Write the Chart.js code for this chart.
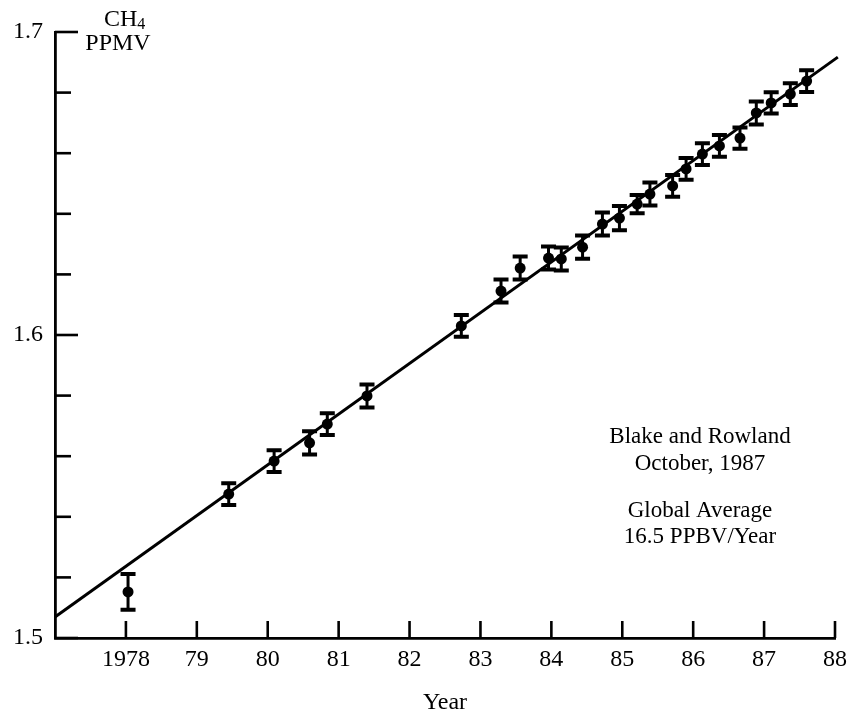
<!DOCTYPE html>
<html>
<head>
<meta charset="utf-8">
<title>CH4 PPMV</title>
<script src="https://cdn.jsdelivr.net/npm/chart.js@4"></script>
<style>
  html, body { margin: 0; padding: 0; background: #fff; }
  #wrap { width: 849px; height: 715px; }
</style>
</head>
<body>
<div id="wrap"><canvas id="c" width="849" height="715"></canvas></div>
<script>
// Sampling dates (decimal year)
const years = [
  1978.03, 1979.45, 1980.09, 1980.59, 1980.84, 1981.40, 1982.73, 1983.29,
  1983.56, 1983.96, 1984.14, 1984.44, 1984.72, 1984.96, 1985.21, 1985.39,
  1985.71, 1985.90, 1986.13, 1986.37, 1986.66, 1986.89, 1987.10, 1987.37,
  1987.60
];
// Global average methane mixing ratio (ppmv)
const ch4 = [
  1.5152, 1.5475, 1.5584, 1.5644, 1.5706, 1.5799, 1.6030, 1.6145,
  1.6221, 1.6254, 1.6251, 1.6290, 1.6366, 1.6386, 1.6432, 1.6465,
  1.6492, 1.6548, 1.6597, 1.6624, 1.6650, 1.6733, 1.6766, 1.6795,
  1.6838
];
// Half-width of each error bar (ppmv)
const ch4Err = [
  0.0059, 0.0036, 0.0036, 0.0038, 0.0036, 0.0038, 0.0036, 0.0038,
  0.0038, 0.0038, 0.0038, 0.0038, 0.0038, 0.0040, 0.0030, 0.0038,
  0.0036, 0.0036, 0.0036, 0.0036, 0.0035, 0.0038, 0.0035, 0.0036,
  0.0036
];
// Linear trend, end points
const trendYears = [1977.0, 1988.04];
const trendCh4 = [1.5069, 1.6917];

// Axis ticks
const xTickYears = [1978, 1979, 1980, 1981, 1982, 1983, 1984, 1985, 1986, 1987, 1988];
const xTickLabels = ['1978', '79', '80', '81', '82', '83', '84', '85', '86', '87', '88'];
const yLabelled = ['1.5', '1.6', '1.7'];

// Annotation lines
const noteLines = ['Blake and Rowland', 'October, 1987', '', 'Global Average', '16.5 PPBV/Year'];

const SERIF = '"Liberation Serif", "DejaVu Serif", serif';

const pointData = years.map((x, i) => ({ x: x, y: ch4[i] }));
const trendData = trendYears.map((x, i) => ({ x: x, y: trendCh4[i] }));

// White page behind the plot
const background = {
  id: 'background',
  beforeDraw(chart) {
    const ctx = chart.ctx;
    ctx.save();
    ctx.fillStyle = '#fff';
    ctx.fillRect(0, 0, chart.width, chart.height);
    ctx.restore();
  }
};

// Tick marks pointing into the plot from both axes
const innerTicks = {
  id: 'innerTicks',
  afterDraw(chart) {
    const ctx = chart.ctx;
    const xs = chart.scales.x, ys = chart.scales.y;
    ctx.save();
    ctx.strokeStyle = '#000';
    ctx.lineWidth = 2.6;
    ctx.lineCap = 'butt';
    ys.ticks.forEach(t => {
      const py = ys.getPixelForValue(t.value);
      const major = Math.abs(t.value * 10 - Math.round(t.value * 10)) < 1e-6;
      const len = major ? 23 : 16;
      ctx.beginPath();
      ctx.moveTo(ys.right, py);
      ctx.lineTo(ys.right + len, py);
      ctx.stroke();
    });
    xTickYears.forEach(v => {
      const px = xs.getPixelForValue(v);
      ctx.beginPath();
      ctx.moveTo(px, xs.top);
      ctx.lineTo(px, xs.top - 17);
      ctx.stroke();
    });
    ctx.restore();
  }
};

// Vertical error bars with flat caps
const errorBars = {
  id: 'errorBars',
  afterDatasetsDraw(chart) {
    const ctx = chart.ctx;
    const xs = chart.scales.x, ys = chart.scales.y;
    ctx.save();
    ctx.strokeStyle = '#000';
    years.forEach((x, i) => {
      const px = xs.getPixelForValue(x);
      const top = ys.getPixelForValue(ch4[i] + ch4Err[i]);
      const bot = ys.getPixelForValue(ch4[i] - ch4Err[i]);
      ctx.lineWidth = 3;
      ctx.beginPath();
      ctx.moveTo(px, top);
      ctx.lineTo(px, bot);
      ctx.stroke();
      ctx.lineWidth = 4;
      ctx.beginPath();
      ctx.moveTo(px - 7.5, top);
      ctx.lineTo(px + 7.5, top);
      ctx.moveTo(px - 7.5, bot);
      ctx.lineTo(px + 7.5, bot);
      ctx.stroke();
    });
    ctx.restore();
  }
};

// Unit label and the note block
const labels = {
  id: 'labels',
  afterDraw(chart) {
    const ctx = chart.ctx;
    ctx.save();
    ctx.fillStyle = '#000';
    ctx.textBaseline = 'alphabetic';
    // CH4 with subscript
    ctx.font = '24px ' + SERIF;
    ctx.textAlign = 'left';
    ctx.fillText('CH', 104, 26);
    const w = ctx.measureText('CH').width;
    ctx.font = '16px ' + SERIF;
    ctx.fillText('4', 104 + w, 29);
    ctx.font = '24px ' + SERIF;
    ctx.textAlign = 'center';
    ctx.fillText('PPMV', 118, 50);
    // Note block
    ctx.font = '23px ' + SERIF;
    let y = 443;
    noteLines.forEach(line => {
      if (line) ctx.fillText(line, 700, y);
      y += line ? 26.5 : 20.5;
    });
    ctx.restore();
  }
};

new Chart(document.getElementById('c'), {
  type: 'scatter',
  data: {
    datasets: [
      {
        label: 'trend',
        data: trendData,
        showLine: true,
        borderColor: '#000',
        borderWidth: 3,
        pointRadius: 0,
        fill: false,
        clip: 6
      },
      {
        label: 'CH4',
        data: pointData,
        showLine: false,
        pointRadius: 5.5,
        pointBackgroundColor: '#000',
        pointBorderColor: '#000',
        pointBorderWidth: 0
      }
    ]
  },
  options: {
    responsive: false,
    animation: false,
    devicePixelRatio: 1,
    layout: { padding: { top: 32, right: 14, left: 0, bottom: 0 } },
    plugins: {
      legend: { display: false },
      tooltip: { enabled: false }
    },
    scales: {
      x: {
        type: 'linear',
        min: 1977,
        max: 1988,
        afterFit(s) { s.height = 77; s.paddingLeft = 0; s.paddingRight = 0; },
        afterBuildTicks(s) { s.ticks = xTickYears.map(v => ({ value: v })); },
        grid: { display: false, drawTicks: false },
        border: { display: true, color: '#000', width: 2.8 },
        ticks: {
          padding: 7,
          color: '#000',
          font: { family: SERIF, size: 24 },
          maxRotation: 0,
          autoSkip: false,
          callback(v) {
            const i = xTickYears.indexOf(Math.round(v));
            return i >= 0 ? xTickLabels[i] : '';
          }
        },
        title: {
          display: true,
          text: 'Year',
          color: '#000',
          font: { family: SERIF, size: 24, lineHeight: 1.0 },
          padding: { top: 0, bottom: 0 }
        }
      },
      y: {
        type: 'linear',
        min: 1.5,
        max: 1.7,
        afterFit(s) { s.width = 55; s.paddingTop = 0; s.paddingBottom = 0; },
        grid: { display: false, drawTicks: false },
        border: { display: true, color: '#000', width: 2.8 },
        ticks: {
          stepSize: 0.02,
          padding: 12,
          color: '#000',
          font: { family: SERIF, size: 24 },
          autoSkip: false,
          callback(v) {
            const s = (Math.round(v * 100) / 100).toFixed(2);
            const lab = s.slice(0, 3);
            return (s.endsWith('0') && yLabelled.includes(lab)) ? lab : '';
          }
        }
      }
    }
  },
  plugins: [background, errorBars, innerTicks, labels]
});
</script>
</body>
</html>
